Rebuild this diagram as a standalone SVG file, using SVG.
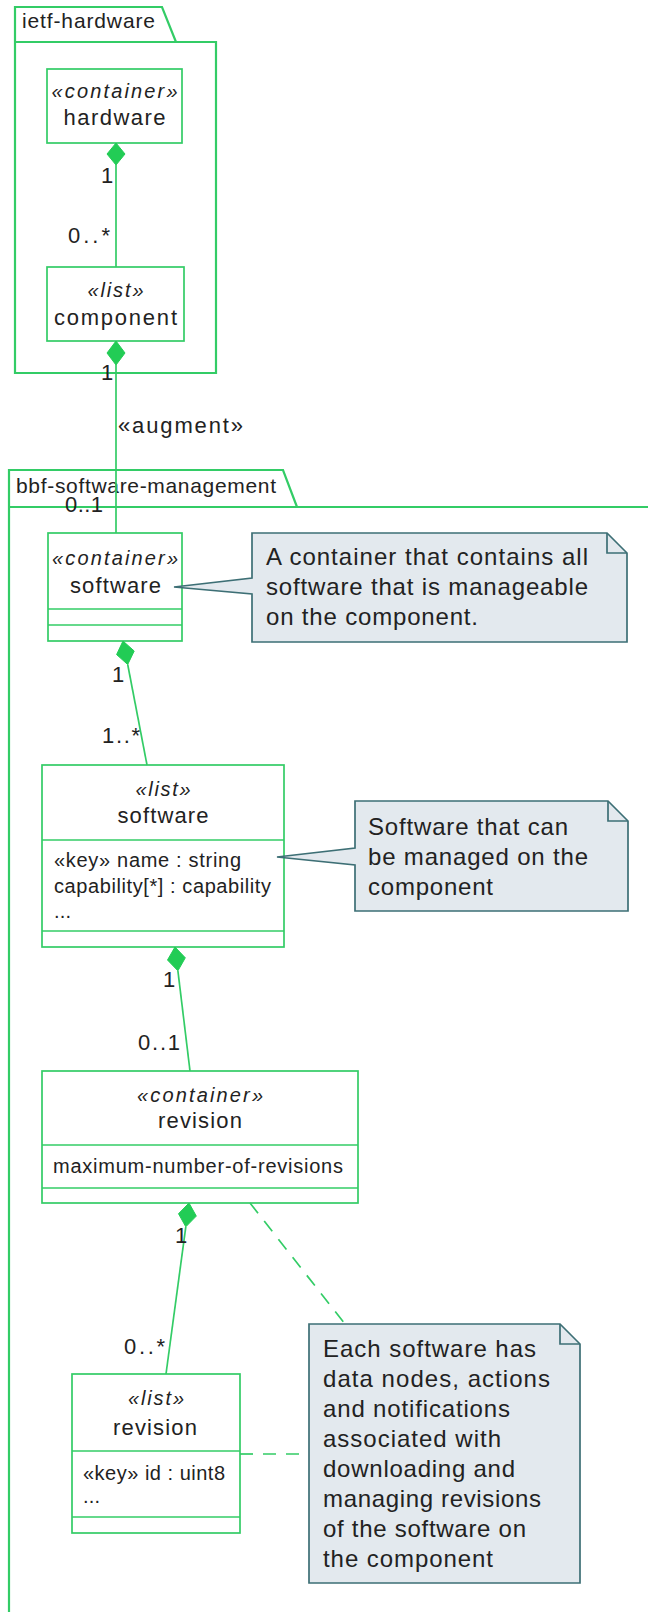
<svg xmlns="http://www.w3.org/2000/svg" width="648" height="1612" viewBox="0 0 648 1612">
<style>
text{font-family:"Liberation Sans",Arial,sans-serif;fill:#222}
.pkg{fill:none;stroke:#33cc66;stroke-width:2.2}
.pl{font-size:21px}
.box{fill:#fff;stroke:#33cc66;stroke-width:1.7}
.div{stroke:#33cc66;stroke-width:1.7}
.st{font-size:20px;font-style:italic;text-anchor:middle}
.nm{font-size:22px;text-anchor:middle}
.at{font-size:20px}
.ln{fill:none;stroke:#33cc66;stroke-width:1.7}
.dash{fill:none;stroke:#33cc66;stroke-width:1.7;stroke-dasharray:13,10}
.dia{fill:#22cc55;stroke:#22cc55;stroke-width:1}
.lb{font-size:22px}
.note{fill:#e3e9ee;stroke:#3d6f75;stroke-width:1.7}
.ear{fill:none;stroke:#3d6f75;stroke-width:1.7}
.nt{font-size:24px}
</style>
<g id="pkg-ietf-hardware">
<path class="pkg" d="M15,42 L15,7 L162,7 L176,42 M15,42 L216,42 L216,373 L15,373 Z"/>
<text class="pl" x="22" y="28" textLength="133">ietf-hardware</text>
</g>
<g id="pkg-bbf-software-management">
<path class="pkg" d="M9,1625 L9,470 L283,470 L297,507 M9,507 L660,507"/>
<text class="pl" x="16" y="493" textLength="260">bbf-software-management</text>
</g>
<g id="node-hardware">
<rect class="box" x="47" y="69" width="135" height="74"/>
<text class="st" x="114.5" y="98" textLength="126">«container»</text>
<text class="nm" x="114.5" y="125" textLength="102">hardware</text>
</g>
<g id="node-component">
<rect class="box" x="47" y="267" width="137" height="74"/>
<text class="st" x="115.5" y="297" textLength="56">«list»</text>
<text class="nm" x="115.5" y="325" textLength="123">component</text>
</g>
<g id="node-software-container">
<rect class="box" x="48" y="533" width="134" height="108"/>
<line class="div" x1="48" y1="609" x2="182" y2="609"/>
<line class="div" x1="48" y1="625" x2="182" y2="625"/>
<text class="st" x="115" y="565" textLength="126">«container»</text>
<text class="nm" x="115.5" y="593" textLength="91">software</text>
</g>
<g id="note-software-container">
<path class="note" d="M252,533 L607,533 L627,553 L627,642 L252,642 L252,594 L174,587 L252,578 Z"/>
<path class="ear" d="M607,533 L607,553 L627,553"/>
<text class="nt" x="266" y="565" textLength="322">A container that contains all</text>
<text class="nt" x="266" y="595" textLength="322">software that is manageable</text>
<text class="nt" x="266" y="625" textLength="212">on the component.</text>
</g>
<g id="node-software-list">
<rect class="box" x="42" y="765" width="242" height="182"/>
<line class="div" x1="42" y1="840" x2="284" y2="840"/>
<line class="div" x1="42" y1="931" x2="284" y2="931"/>
<text class="st" x="163" y="796" textLength="55">«list»</text>
<text class="nm" x="163" y="823" textLength="91">software</text>
<text class="at" x="54" y="867" textLength="187">«key» name : string</text>
<text class="at" x="54" y="893" textLength="217">capability[*] : capability</text>
<text class="at" x="54" y="918" textLength="17">...</text>
</g>
<g id="note-software-list">
<path class="note" d="M355,801 L608,801 L628,821 L628,911 L355,911 L355,865 L277,857 L355,848 Z"/>
<path class="ear" d="M608,801 L608,821 L628,821"/>
<text class="nt" x="368" y="835" textLength="200">Software that can</text>
<text class="nt" x="368" y="865" textLength="220">be managed on the</text>
<text class="nt" x="368" y="895" textLength="125">component</text>
</g>
<g id="node-revision-container">
<rect class="box" x="42" y="1071" width="316" height="132"/>
<line class="div" x1="42" y1="1145" x2="358" y2="1145"/>
<line class="div" x1="42" y1="1188" x2="358" y2="1188"/>
<text class="st" x="200" y="1102" textLength="126">«container»</text>
<text class="nm" x="200" y="1128" textLength="84">revision</text>
<text class="at" x="53" y="1173" textLength="290">maximum-number-of-revisions</text>
</g>
<g id="node-revision-list">
<rect class="box" x="72" y="1374" width="168" height="159"/>
<line class="div" x1="72" y1="1451" x2="240" y2="1451"/>
<line class="div" x1="72" y1="1517" x2="240" y2="1517"/>
<text class="st" x="156" y="1405" textLength="56">«list»</text>
<text class="nm" x="155" y="1435" textLength="84">revision</text>
<text class="at" x="83" y="1480" textLength="142">«key» id : uint8</text>
<text class="at" x="83" y="1503" textLength="17">...</text>
</g>
<g id="note-revision">
<path class="note" d="M309,1324 L560,1324 L580,1344 L580,1583 L309,1583 Z"/>
<path class="ear" d="M560,1324 L560,1344 L580,1344"/>
<text class="nt" x="323" y="1357" textLength="213">Each software has</text>
<text class="nt" x="323" y="1387" textLength="227">data nodes, actions</text>
<text class="nt" x="323" y="1417" textLength="187">and notifications</text>
<text class="nt" x="323" y="1447" textLength="178">associated with</text>
<text class="nt" x="323" y="1477" textLength="192">downloading and</text>
<text class="nt" x="323" y="1507" textLength="218">managing revisions</text>
<text class="nt" x="323" y="1537" textLength="203">of the software on</text>
<text class="nt" x="323" y="1567" textLength="170">the component</text>
</g>
<g id="connectors">
<line class="ln" x1="116" y1="165" x2="116" y2="267"/>
<polygon class="dia" points="116,143 125,154 116,165 107,154"/>
<line class="ln" x1="116" y1="365" x2="116" y2="533"/>
<polygon class="dia" points="116,341 125,353 116,365 107,353"/>
<line class="ln" x1="127.7" y1="664.5" x2="147" y2="765"/>
<polygon class="dia" points="123,641 134.2,651 127.7,664.5 116.6,654.6"/>
<line class="ln" x1="177.9" y1="970.8" x2="190" y2="1071"/>
<polygon class="dia" points="175,947 185.3,957.8 177.9,970.8 167.5,960"/>
<line class="ln" x1="185.8" y1="1226.8" x2="166" y2="1374"/>
<polygon class="dia" points="189,1203 196.3,1216.1 185.8,1226.8 178.5,1213.7"/>
<line class="dash" x1="250" y1="1203" x2="345" y2="1324"/>
<line class="dash" x1="240" y1="1454" x2="309" y2="1454"/>
<text class="lb" x="101" y="183">1</text>
<text class="lb" x="68" y="243" textLength="42">0..*</text>
<text class="lb" x="101" y="380">1</text>
<text class="lb" x="118" y="433" textLength="125">«augment»</text>
<text class="lb" x="65" y="512" textLength="38">0..1</text>
<text class="lb" x="112" y="682">1</text>
<text class="lb" x="102" y="743" textLength="38">1..*</text>
<text class="lb" x="163" y="987">1</text>
<text class="lb" x="138" y="1050" textLength="42">0..1</text>
<text class="lb" x="175" y="1243">1</text>
<text class="lb" x="124" y="1354" textLength="41">0..*</text>
</g>
</svg>
